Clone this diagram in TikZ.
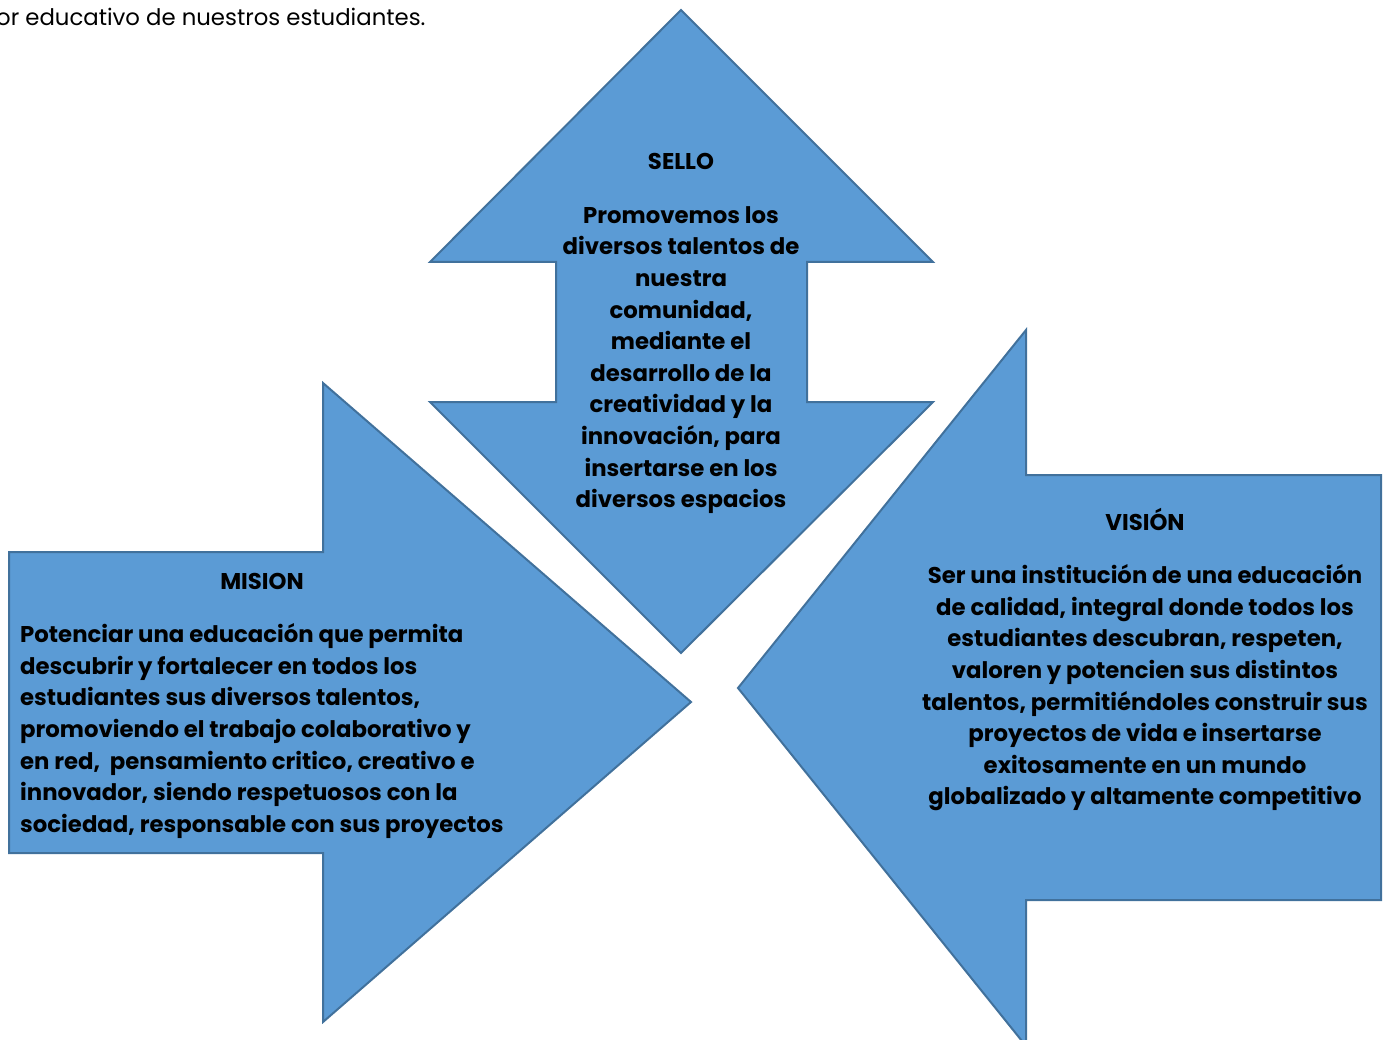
\documentclass[tikz,border=0pt]{standalone}
\usepackage{fontspec}
\setmainfont{Poppins}
\begin{document}
\begin{tikzpicture}[x=1pt,y=-1pt,
  shp/.style={fill=arrowfill,draw=arrowline,line width=2pt,line join=miter},
  ttl/.style={font=\fontsize{22.8}{31.6}\selectfont\bfseries,inner sep=0pt,anchor=base},
  body/.style={font=\fontsize{22.8}{31.6}\selectfont\bfseries,inner sep=0pt}]
\definecolor{arrowfill}{HTML}{5B9BD5}
\definecolor{arrowline}{HTML}{41719C}
\useasboundingbox (0,0) rectangle (1389,1040);
\clip (0,0) rectangle (1389,1040);
% SELLO double arrow
\draw[shp] (681,10) -- (933,262) -- (807,262) -- (807,402) -- (933,402) -- (681,653)
  -- (430,402) -- (556,402) -- (556,262) -- (430,262) -- cycle;
% MISION right arrow
\draw[shp] (9,552) -- (323,552) -- (323,383) -- (691,702) -- (323,1022) -- (323,853)
  -- (9,853) -- cycle;
% VISION left arrow
\draw[shp] (738,688) -- (1026,330) -- (1026,475) -- (1381,475) -- (1381,900)
  -- (1026,900) -- (1026,1046) -- cycle;
% top text
\node[font=\fontsize{22.8}{27}\selectfont,inner sep=0pt,anchor=base west] (top) at (-4,26) {or educativo de nuestros estudiantes.};
% texts
\node[ttl] (st) at (681,170) {SELLO};
\node[body,align=center] (sb) at (681,360) {Promovemos los\\diversos talentos de\\nuestra\\comunidad,\\mediante el\\desarrollo de la\\creatividad y la\\innovación, para\\insertarse en los\\diversos espacios};
\node[ttl] (mt) at (262,589) {MISION};
\node[body,align=left,anchor=west] (mb) at (20,731) {Potenciar una educación que permita\\descubrir y fortalecer en todos los\\estudiantes sus diversos talentos,\\promoviendo el trabajo colaborativo y\\en red,\ \ pensamiento critico, creativo e\\innovador, siendo respetuosos con la\\sociedad, responsable con sus proyectos};
\node[ttl] (vt) at (1145,530) {VISIÓN};
\node[body,align=center] (vb) at (1145,688) {Ser una institución de una educación\\de calidad, integral donde todos los\\estudiantes descubran, respeten,\\valoren y potencien sus distintos\\talentos, permitiéndoles construir sus\\proyectos de vida e insertarse\\exitosamente en un mundo\\globalizado y altamente competitivo};
\end{tikzpicture}
\end{document}
